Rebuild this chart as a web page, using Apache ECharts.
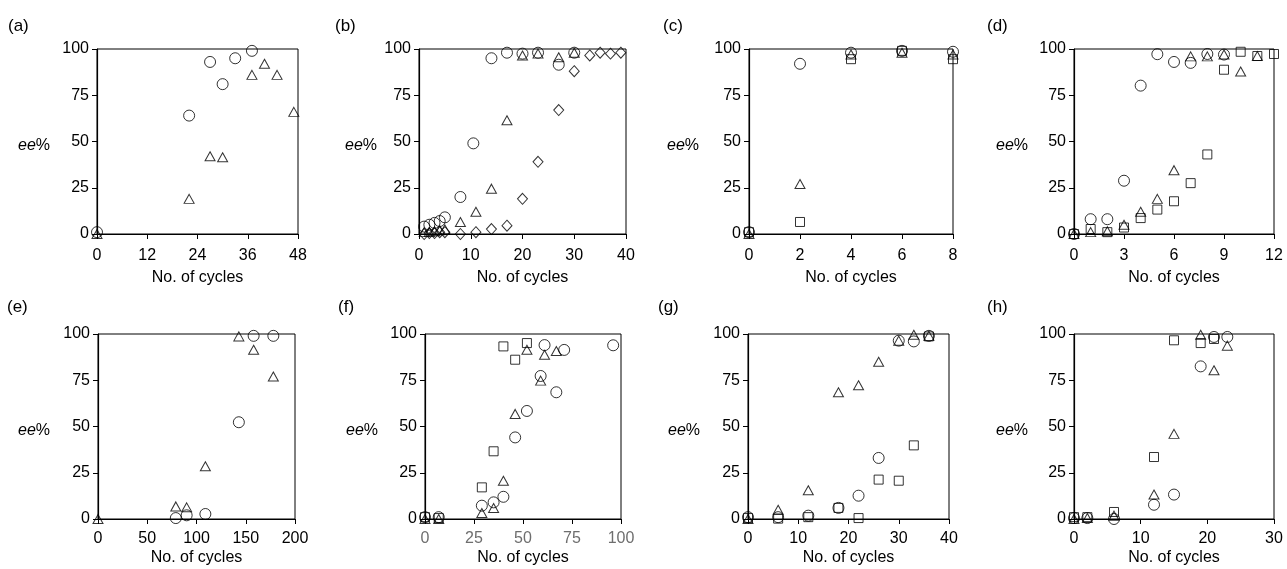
<!DOCTYPE html>
<html>
<head>
<meta charset="utf-8">
<script src="https://cdn.jsdelivr.net/npm/echarts@6/dist/echarts.min.js"></script>
<style>
  html, body { margin: 0; padding: 0; background: #fff; }
  #chart { width: 1287px; height: 569px; }
</style>
</head>
<body>
<div id="chart"></div>
<script>
// panel (a)
const aCircle = [[0, 1], [22, 64], [27, 93], [30, 81], [33, 95], [37, 99]];
const aTriangle = [[0, 0], [22, 19], [27, 42], [30, 41.5], [37, 86], [40, 92], [43, 86], [47, 66]];

// panel (b)
const bCircle = [[1, 4], [2, 5], [3, 6], [4, 7], [5, 9], [8, 20], [10.5, 49], [14, 95], [17, 98], [20, 97.5], [23, 98], [27, 91.5], [30, 98]];
const bTriangle = [[1, 1], [2, 1], [3, 1.5], [4, 2], [5, 2.5], [8, 6.5], [11, 12], [14, 24.5], [17, 61.5], [20, 96.5], [23, 97.5], [27, 95.5], [30, 98]];
const bDiamond = [[1, 0], [2, 0.5], [3, 0.5], [4, 1], [5, 1], [8, 0], [11, 1], [14, 2.7], [17, 4.5], [20, 19], [23, 39], [27, 67], [30, 88], [33, 96.5], [35, 98], [37, 97.5], [39, 98]];

// panel (c)
const cCircle = [[0, 1], [2, 92], [4, 98], [6, 99], [8, 98.5]];
const cTriangle = [[0, 0], [2, 27], [4, 97], [6, 98], [8, 97]];
const cSquare = [[0, 1], [2, 6.5], [4, 94.5], [6, 99], [8, 94.5]];

// panel (d)
const dCircle = [[0, 0], [1, 8], [2, 8], [3, 28.8], [4, 80.2], [5, 97.2], [6, 93], [7, 92.5], [8, 97.3], [9, 97]];
const dTriangle = [[0, 0], [1, 1], [2, 1.5], [3, 5], [4, 12], [5, 19], [6, 34.5], [7, 96], [8, 96], [9, 97], [10, 87.8], [11, 96.2]];
const dSquare = [[0, 0], [1, 2.7], [2, 1], [3, 3.5], [4, 8.6], [5, 13.2], [6, 17.7], [7, 27.5], [8, 43], [9, 88.8], [10, 98.5], [11, 96.2], [12, 97.3]];

// panel (e)
const eCircle = [[79, 0.5], [90, 2], [109, 2.7], [143, 52.3], [158, 99], [178, 99]];
const eTriangle = [[0, 0], [79, 6.8], [90, 6.3], [109, 28.5], [143, 98.7], [158, 91.5], [178, 77]];

// panel (f)
const fCircle = [[0, 1], [7, 1], [29, 7.2], [35, 9], [40, 12], [46, 44.1], [52, 58.4], [59, 77.3], [61, 94], [67, 68.5], [71, 91.4], [96, 93.9]];
const fTriangle = [[0, 0], [7, 0], [29, 3.2], [35, 5.9], [40, 20.7], [46, 56.8], [52, 91.5], [59, 74.8], [61, 88.8], [67, 90.8]];
const fSquare = [[0, 1], [7, 0.5], [29, 17.1], [35, 36.6], [40, 93.3], [46, 86.1], [52, 95.1]];

// panel (g)
const gCircle = [[0, 1], [6, 1], [12, 1.8], [18, 6], [22, 12.6], [26, 33], [30, 96.4], [33, 96], [36, 99]];
const gTriangle = [[0, 0], [6, 5], [12, 15.5], [18, 68.5], [22, 72.3], [26, 85], [30, 96.4], [33, 99.6], [36, 99]];
const gSquare = [[0, 0.5], [6, 0.2], [12, 1], [18, 6], [22, 0.5], [26, 21.3], [30, 20.7], [33, 39.8], [36, 98.7]];

// panel (h)
const hCircle = [[0, 0.5], [2, 0.5], [6, 0], [12, 7.7], [15, 13.2], [19, 82.5], [21, 98.4], [23, 98.4]];
const hTriangle = [[0, 0], [2, 0.5], [6, 1.8], [12, 13.2], [15, 46], [19, 99.6], [21, 80.4], [23, 93.7]];
const hSquare = [[0, 1], [2, 1], [6, 3.8], [12, 33.5], [15, 96.6], [19, 95.1], [21, 97.3]];

const panelNames = ['(a)', '(b)', '(c)', '(d)', '(e)', '(f)', '(g)', '(h)'];
const xMaxes = [48, 40, 8, 12, 200, 100, 40, 30];
const xSteps = [12, 10, 2, 3, 50, 25, 10, 10];
const yTicks = [0, 25, 50, 75, 100];
const xAxisTitle = 'No. of cycles';

const panelSeries = [
    [['circle', aCircle], ['triangle', aTriangle]],
    [['circle', bCircle], ['triangle', bTriangle], ['diamond', bDiamond]],
    [['circle', cCircle], ['triangle', cTriangle], ['rect', cSquare]],
    [['circle', dCircle], ['triangle', dTriangle], ['rect', dSquare]],
    [['circle', eCircle], ['triangle', eTriangle]],
    [['circle', fCircle], ['triangle', fTriangle], ['rect', fSquare]],
    [['circle', gCircle], ['triangle', gTriangle], ['rect', gSquare]],
    [['circle', hCircle], ['triangle', hTriangle], ['rect', hSquare]]
];

// layout (pixels)
const gridLefts = [97, 419, 749, 1074, 98, 425, 748, 1074];
const gridWidths = [201, 207, 204, 200, 197, 196, 201, 200];
const rowTops = [49, 334];
const gridHeight = 185;
const labelLefts = [8, 335, 663, 987, 7, 338, 658, 987];
const eeLefts = [18, 345, 667, 996, 18, 346, 668, 996];
const labelMargins = [14, 12];
const nameGaps = [36, 31];

const fontFamily = '"Liberation Sans", Arial, sans-serif';
const symbolSizes = { circle: 11, triangle: [10, 9], rect: 9, diamond: [10, 11] };

const chart = echarts.init(document.getElementById('chart'), null, { renderer: 'canvas' });

const grids = [], xAxes = [], yAxes = [], series = [], graphics = [];

panelNames.forEach((name, i) => {
    const row = i < 4 ? 0 : 1;
    const top = rowTops[row];
    grids.push({
        left: gridLefts[i],
        top: top,
        width: gridWidths[i],
        height: gridHeight,
        show: true,
        borderColor: '#000',
        borderWidth: 1,
        backgroundColor: 'transparent'
    });

    xAxes.push({
        type: 'value',
        gridIndex: i,
        min: 0,
        max: xMaxes[i],
        interval: xSteps[i],
        name: xAxisTitle,
        nameLocation: 'middle',
        nameGap: nameGaps[row],
        nameTextStyle: { color: '#000', fontSize: 16, fontFamily: fontFamily },
        axisLine: { show: true, onZero: false, lineStyle: { color: '#000', width: 1.2 } },
        axisTick: { show: true, inside: false, length: 5, lineStyle: { color: '#000' } },
        axisLabel: {
            color: i === 5 ? '#6e6e6e' : '#000',
            fontSize: 16,
            fontFamily: fontFamily,
            margin: labelMargins[row]
        },
        splitLine: { show: false }
    });

    yAxes.push({
        type: 'value',
        gridIndex: i,
        min: 0,
        max: 100,
        interval: 25,
        axisLine: { show: true, onZero: false, lineStyle: { color: '#000', width: 1.2 } },
        axisTick: { show: true, inside: false, length: 5, lineStyle: { color: '#000' } },
        axisLabel: {
            color: '#000',
            fontSize: 16,
            fontFamily: fontFamily,
            margin: 8,
            formatter: (v) => (yTicks.indexOf(v) >= 0 ? String(v) : '')
        },
        splitLine: { show: false }
    });

    panelSeries[i].forEach(([shape, points]) => {
        series.push({
            type: 'scatter',
            xAxisIndex: i,
            yAxisIndex: i,
            symbol: shape,
            symbolSize: symbolSizes[shape],
            clip: false,
            itemStyle: { color: 'transparent', borderColor: '#000', borderWidth: 1 },
            emphasis: { disabled: true },
            data: points
        });
    });

    graphics.push({
        type: 'text',
        left: labelLefts[i],
        top: row === 0 ? 18 : 299,
        style: { text: name, fontSize: 17, fontFamily: fontFamily, fill: '#000' }
    });

    graphics.push({
        type: 'text',
        left: eeLefts[i],
        top: top + gridHeight / 2 - 4,
        style: {
            text: '{i|ee}%',
            fontSize: 16,
            fontFamily: fontFamily,
            fill: '#000',
            rich: { i: { fontStyle: 'italic', fontSize: 16, fontFamily: fontFamily, fill: '#000' } }
        }
    });
});

chart.setOption({
    backgroundColor: '#fff',
    animation: false,
    grid: grids,
    xAxis: xAxes,
    yAxis: yAxes,
    series: series,
    graphic: graphics
});
</script>
</body>
</html>
